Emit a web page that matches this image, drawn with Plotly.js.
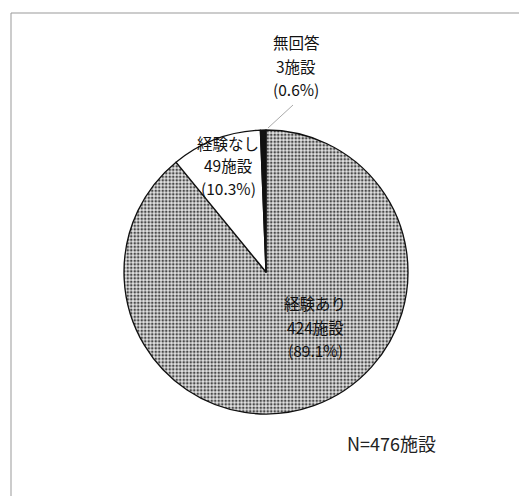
<!DOCTYPE html>
<html>
<head>
<meta charset="utf-8">
<script src="https://cdn.plot.ly/plotly-3.0.1.min.js"></script>
<style>html,body{margin:0;padding:0;background:#fff;}#chart{width:521px;height:496px;}</style>
</head>
<body>
<div id="chart"></div>
<script>
var categories = ['経験あり', '経験なし', '無回答'];
var counts = [424, 49, 3];
var percents = [89.1, 10.3, 0.6];
var totalLabel = 'N=476施設';

var W = 521, H = 496;
function px(x){ return x / W; }
function py(y){ return 1 - y / H; }

var trace = {
  type: 'pie',
  labels: categories,
  values: counts,
  sort: false,
  direction: 'clockwise',
  rotation: 0,
  textinfo: 'none',
  hoverinfo: 'none',
  showlegend: false,
  domain: {x: [px(124), px(408)], y: [py(414), py(130)]},
  marker: {
    colors: ['#d6d6d6', '#ffffff', '#111111'],
    line: {color: '#111111', width: 1.3},
    pattern: {shape: ['.', '', ''], fgcolor: '#4a4a4a', bgcolor: ['#e4e4e4', '#ffffff', '#111111'], size: 3.5, solidity: 0.45}
  }
};

// label line positions (centre x, y for 3 lines) per category
var labelPos = [
  {x: 315, y: [303, 327, 350]},
  {x: 228, y: [143, 165, 188]},
  {x: 296, y: [42, 66, 89]}
];
var annotations = [];
for (var i = 0; i < categories.length; i++) {
  var lines = [categories[i], counts[i] + '施設', '(' + percents[i] + '%)'];
  for (var j = 0; j < 3; j++) {
    annotations.push({
      xref: 'paper', yref: 'paper', x: px(labelPos[i].x), y: py(labelPos[i].y[j]),
      xanchor: 'center', yanchor: 'middle', showarrow: false,
      text: lines[j],
      font: {family: '"Noto Sans CJK JP", sans-serif', size: 15.5, color: '#111'}
    });
  }
}
annotations.push({
  xref: 'paper', yref: 'paper', x: px(391), y: py(443),
  xanchor: 'center', yanchor: 'middle', showarrow: false,
  text: totalLabel,
  font: {family: '"Noto Sans CJK JP", sans-serif', size: 18, color: '#222'}
});

var layout = {
  width: W, height: H,
  margin: {l: 0, r: 0, t: 0, b: 0},
  paper_bgcolor: '#ffffff',
  annotations: annotations,
  shapes: [
    {type: 'line', xref: 'paper', yref: 'paper', x0: px(11), x1: px(519), y0: py(13), y1: py(13), line: {color: '#999', width: 1}},
    {type: 'line', xref: 'paper', yref: 'paper', x0: px(11), x1: px(11), y0: py(13), y1: 0, line: {color: '#999', width: 1}},
    {type: 'line', xref: 'paper', yref: 'paper', x0: px(293), x1: px(268), y0: py(105), y1: py(128), line: {color: '#aaa', width: 1}}
  ]
};

Plotly.newPlot('chart', [trace], layout, {staticPlot: true});
</script>
</body>
</html>
